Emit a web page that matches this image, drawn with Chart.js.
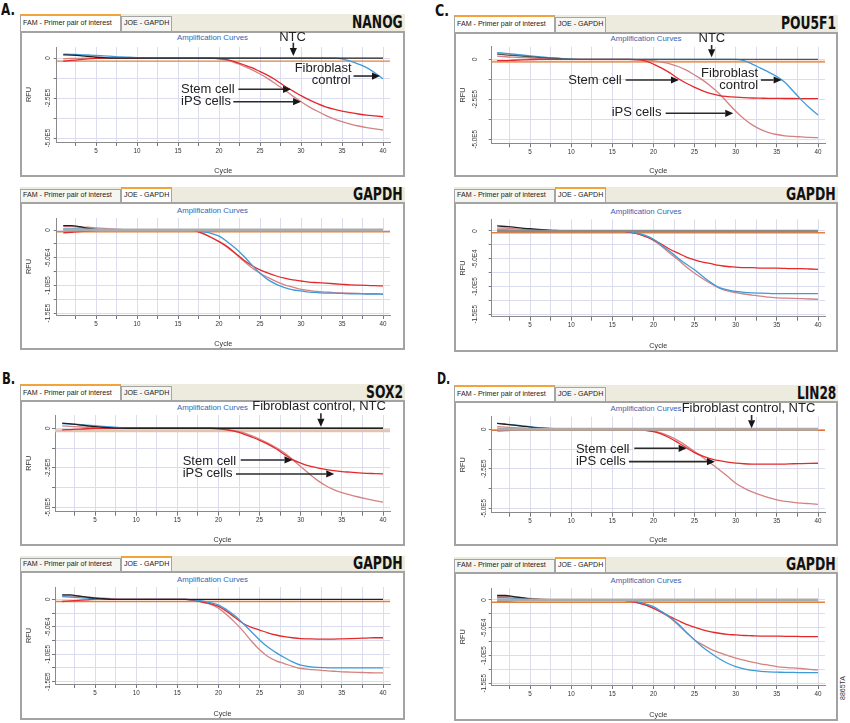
<!DOCTYPE html>
<html><head><meta charset="utf-8">
<script src="https://cdn.jsdelivr.net/npm/chart.js@4.4.1/dist/chart.umd.min.js"></script>
<style>
html,body{margin:0;padding:0;background:#fff;}
#fig{position:relative;width:850px;height:723px;overflow:hidden;font-family:"Liberation Sans",Arial,sans-serif;}
.tabbar{position:absolute;background:#ecebdd;}
.tab{position:absolute;box-sizing:border-box;border:1px solid #a5a5a5;border-bottom:none;font-size:7.1px;color:#222;white-space:nowrap;padding-left:2px;overflow:hidden;}
.tab.on{background:#fff;border-top:2px solid #f2a33a;}
.tab.off{background:#f5f5f1;}
.frame{position:absolute;box-sizing:border-box;border:2px solid #a3a3a3;background:#fff;}
.ctitle{position:absolute;text-align:center;font-size:7.8px;color:#3464b4;line-height:10px;height:10px;white-space:nowrap;}
.gene,.plab{position:absolute;font-family:"Liberation Sans Narrow","DejaVu Sans Condensed","Liberation Sans",sans-serif;font-weight:bold;color:#111;white-space:nowrap;transform-origin:0 50%;}
.code{position:absolute;font-size:7px;color:#333;white-space:nowrap;text-align:center;transform:rotate(-90deg);transform-origin:50% 50%;}
canvas{position:absolute;}
</style></head><body><div id="fig"></div>
<script>
// ---------------- DATA ----------------
const cycles = [1,2,3,4,5,6,7,8,9,10,11,12,13,14,15,16,17,18,19,20,21,22,23,24,25,26,27,28,29,30,31,32,33,34,35,36,37,38,39,40];
const xTicks = [2.5,5,7.5,10,12.5,15,17.5,20,22.5,25,27.5,30,32.5,35,37.5,40];
const famYTicks = [0,-125000,-250000,-375000,-500000];
const gapdhYTicks = [0,-25000,-50000,-75000,-100000,-125000,-150000];
const ntcRepBaseline = [0,0,0,0,0,0,0,0,0,0, 0,0,0,0,0,0,0,0,0,0, 0,0,0,0,0,0,0,0,0,0, 0,0,0,0,0,0,0,0,0,0];

// A. NANOG - FAM
const nanogStemFam = [-20000,-15000,-10000,-5000,-2000,0,0,0,0,0, 0,0,0,0,0,0,0,0,0,-3000,
  -10000,-25000,-42000,-60000,-85000,-110000,-140000,-175000,-205000,-235000,
  -262000,-285000,-305000,-320000,-332000,-342000,-350000,-357000,-362000,-367000];
const nanogIpsFam = [-5000,-3000,-2000,0,0,0,0,0,0,0, 0,0,0,0,0,0,0,0,0,-5000,
  -15000,-30000,-50000,-72000,-100000,-130000,-165000,-200000,-238000,-273000,
  -305000,-333000,-358000,-380000,-398000,-413000,-425000,-435000,-443000,-450000];
const nanogFibroFam = [25000,23000,21000,19000,16000,13000,10000,7000,5000,3000, 1000,0,0,0,0,0,0,0,0,0,
  0,0,0,0,0,0,0,0,0,0, 0,0,0,0,-5000,-20000,-38000,-60000,-92000,-130000];
const nanogNtcFam = [20000,18000,15000,10000,5000,2000,0,0,0,0, 0,0,0,0,0,0,0,0,0,0, 0,0,0,0,0,0,0,0,0,0, 0,0,0,0,0,0,0,0,0,0];
const nanogFamThreshold = -19000;

// A. NANOG - GAPDH
const nanogStemGapdh = [-5000,-4000,-3000,-2000,-1000,0,0,0,0,0, 0,0,0,0,0,0,-1000,-6000,-13000,-21000,
  -30000,-42000,-54000,-64000,-72000,-78000,-83000,-87000,-90000,-92000,
  -94000,-95000,-96000,-97000,-98000,-99000,-99500,-100000,-100500,-101000];
const nanogIpsGapdh = [6000,6000,5000,5000,4000,3000,2000,1000,0,0, 0,0,0,0,0,0,-1000,-6000,-13000,-21000,
  -31000,-43000,-56000,-68000,-78000,-86000,-93000,-99000,-103000,-107000,
  -109000,-111000,-112000,-113000,-113500,-114000,-114500,-115000,-115000,-115500];
const nanogFibroGapdh = [2000,2000,2000,2000,1000,1000,0,0,0,0, 0,0,0,0,0,0,0,-3000,-6000,-11000,
  -21000,-33000,-47000,-63000,-78000,-90000,-98000,-104000,-108000,-110000,
  -112000,-113000,-114000,-114000,-114500,-115000,-115000,-115500,-115500,-116000];
const nanogNtcGapdh = [8000,8000,6000,3000,1000,0,0,0,0,0, 0,0,0,0,0,0,0,0,0,0, 0,0,0,0,0,0,0,0,0,0, 0,0,0,0,0,0,0,0,0,0];
const nanogGapdhThreshold = -3000;

// B. SOX2 - FAM
const sox2StemFam = [-10000,-8000,-6000,-3000,-1000,0,0,0,0,0, 0,0,0,0,0,0,0,0,0,-4000,
  -10000,-20000,-35000,-55000,-76000,-100000,-130000,-165000,-198000,-220000,
  -238000,-250000,-260000,-268000,-274000,-278000,-282000,-285000,-287000,-289000];
const sox2IpsFam = [15000,12000,9000,6000,3000,1000,0,0,0,0, 0,0,0,0,0,0,0,0,0,-2000,
  -7000,-15000,-28000,-47000,-68000,-93000,-122000,-155000,-198000,-243000,
  -287000,-328000,-362000,-388000,-407000,-422000,-435000,-447000,-458000,-468000];
const sox2FibroFam = [30000,27000,24000,20000,16000,12000,8000,4000,2000,0, 0,0,0,0,0,0,0,0,0,0, 0,0,0,0,0,0,0,0,0,0, 0,0,0,0,0,0,0,0,0,0];
const sox2NtcFam = [32000,28000,22000,16000,10000,6000,3000,1000,0,0, 0,0,0,0,0,0,0,0,0,0, 0,0,0,0,0,0,0,0,0,0, 0,0,0,0,0,0,0,0,0,0];
const sox2FamThreshold = -15000;

// B. SOX2 - GAPDH
const sox2StemGapdh = [-4000,-3000,-2000,-1000,0,0,0,0,0,0, 0,0,0,0,0,0,-2000,-5000,-8000,-13000,
  -22000,-33000,-44000,-51000,-56000,-61000,-65000,-68000,-70000,-71500,
  -72000,-72500,-72500,-72500,-72000,-71500,-71000,-70500,-70000,-70000];
const sox2IpsGapdh = [6000,6000,5000,4000,3000,2000,1000,0,0,0, 0,0,0,0,0,0,-2000,-5000,-9000,-16000,
  -28000,-42000,-58000,-76000,-92000,-104000,-112000,-117000,-122000,-126000,
  -127500,-128500,-130000,-131000,-132000,-132500,-133000,-133500,-134000,-134000];
const sox2FibroGapdh = [5000,4000,3000,2000,1000,0,0,0,0,0, 0,0,0,0,0,0,-1000,-3000,-6000,-10000,
  -19000,-30000,-44000,-59000,-74000,-87000,-97000,-106000,-114000,-120000,
  -122500,-124000,-124500,-125000,-125000,-125000,-125000,-125000,-125000,-125000];
const sox2NtcGapdh = [8000,8000,6000,4000,2000,1000,0,0,0,0, 0,0,0,0,0,0,0,0,0,0, 0,0,0,0,0,0,0,0,0,0, 0,0,0,0,0,0,0,0,0,0];
const sox2GapdhThreshold = -4000;

// C. POU5F1 - FAM
const pouStemFam = [-8000,-8000,-6000,-4000,-2000,0,0,0,0,0, 0,0,0,0,0,0,0,-2000,-10000,-30000,
  -55000,-85000,-120000,-150000,-175000,-198000,-215000,-227000,-233000,-237000,
  -240000,-242000,-243000,-244000,-244000,-245000,-245000,-246000,-246000,-246000];
const pouIpsFam = [20000,16000,13000,10000,8000,6000,4000,2000,1000,0, 0,0,0,0,0,0,0,-3000,-5000,-8000,
  -18000,-28000,-45000,-68000,-98000,-130000,-170000,-215000,-270000,-325000,
  -372000,-410000,-438000,-458000,-470000,-478000,-482000,-485000,-488000,-490000];
const pouFibroFam = [42000,37000,32000,27000,22000,17000,12000,8000,4000,1000, 0,0,0,0,0,0,0,0,0,0,
  0,0,0,0,0,0,0,0,0,0, -8000,-30000,-55000,-80000,-108000,-145000,-200000,-255000,-305000,-348000];
const pouNtcFam = [33000,28000,24000,20000,16000,12000,9000,6000,3000,1000, 0,0,0,0,0,0,0,0,0,0, 0,0,0,0,0,0,0,0,0,0, 0,0,0,0,0,0,0,0,0,0];
const pouFamThreshold = -15000;

// C. POU5F1 - GAPDH
const pouStemGapdh = [0,0,0,0,0,0,0,0,0,0, 0,0,0,0,0,0,-2000,-5000,-10000,-16000,
  -24000,-33000,-40000,-47000,-52000,-56000,-59000,-62000,-64000,-65000,
  -66000,-66000,-67000,-67000,-67000,-67500,-68000,-68000,-68500,-69000];
const pouIpsGapdh = [5000,5000,4000,3000,2000,1000,0,0,0,0, 0,0,0,0,0,0,-2000,-5000,-10000,-17000,
  -28000,-40000,-52000,-65000,-76000,-86000,-95000,-103000,-108000,-111000,
  -113500,-115500,-117500,-119000,-120500,-121000,-121500,-122000,-122500,-123000];
const pouFibroGapdh = [2000,2000,1000,0,0,0,0,0,0,0, 0,0,0,0,0,0,-1000,-4000,-8000,-15000,
  -26000,-37000,-49000,-60000,-70000,-82000,-93000,-102000,-106000,-109000,
  -110500,-111500,-112000,-112500,-113000,-113000,-113000,-113000,-113000,-113000];
const pouNtcGapdh = [9000,8000,7000,5000,4000,3000,2000,1000,500,0, 0,0,0,0,0,0,0,0,0,0, 0,0,0,0,0,0,0,0,0,0, 0,0,0,0,0,0,0,0,0,0];
const pouGapdhThreshold = -3000;

// D. LIN28 - FAM
const linStemFam = [-10000,-8000,-5000,-2000,0,0,0,0,0,0, 0,0,0,0,0,0,0,-2000,-6000,-15000,
  -30000,-55000,-85000,-117000,-148000,-170000,-187000,-199000,-208000,-214000,
  -218000,-220000,-221000,-221000,-221000,-220000,-218000,-217000,-216000,-215000];
const linIpsFam = [17000,14000,11000,8000,5000,3000,1000,0,0,0, 0,0,0,0,0,0,0,-1000,-4000,-10000,
  -24000,-45000,-72000,-105000,-141000,-178000,-216000,-256000,-298000,-342000,
  -372000,-396000,-415000,-432000,-447000,-456000,-462000,-467000,-471000,-475000];
const linFibroFam = [38000,33000,28000,22000,16000,11000,7000,4000,2000,0, 0,0,0,0,0,0,0,0,0,0, 0,0,0,0,0,0,0,0,0,0, 0,0,0,0,0,0,0,0,0,0];
const linNtcFam = [38000,32000,26000,20000,14000,9000,5000,2000,0,0, 0,0,0,0,0,0,0,0,0,0, 0,0,0,0,0,0,0,0,0,0, 0,0,0,0,0,0,0,0,0,0];
const linFamThreshold = -6000;

// D. LIN28 - GAPDH
const linStemGapdh = [-2000,-2000,-1000,0,0,0,0,0,0,0, 0,0,0,0,0,0,-2000,-5000,-9000,-15000,
  -22000,-30000,-37000,-44000,-49000,-54000,-57500,-60000,-62000,-63000,
  -64000,-64500,-65000,-65000,-65000,-65500,-65500,-66000,-66000,-66000];
const linIpsGapdh = [6000,6000,5000,4000,3000,2000,1000,0,0,0, 0,0,0,0,0,0,-2000,-5000,-9000,-15000,
  -23000,-32000,-45000,-59000,-72000,-81000,-89000,-95000,-100000,-105000,
  -108500,-112000,-115000,-117500,-120000,-121500,-122500,-123500,-125000,-126000];
const linFibroGapdh = [4000,4000,3000,2000,1000,0,0,0,0,0, 0,0,0,0,0,0,-1000,-3000,-7000,-12000,
  -21000,-31000,-43000,-58000,-72000,-85000,-96000,-106000,-114000,-120000,
  -124000,-127000,-128500,-129500,-130000,-130500,-130500,-131000,-131000,-131000];
const linNtcGapdh = [8000,8000,6000,4000,2000,1000,0,0,0,0, 0,0,0,0,0,0,0,0,0,0, 0,0,0,0,0,0,0,0,0,0, 0,0,0,0,0,0,0,0,0,0];
const linGapdhThreshold = -4000;

const tabLabels = ['FAM - Primer pair of interest', 'JOE - GAPDH'];

// ---------------- STYLE ----------------
const FF = '"Liberation Sans", Arial, Helvetica, sans-serif';
const TICK_SIZE = 6.3;
const RED = '#e4292b', PINK = '#d48282', BLUE = '#3f9ad8', BLACK = '#202020', GRAY = '#ababab', ORANGE = '#e2803c';
function ser(values, color, width) { return {values: values, color: color, width: width || 1.3}; }

const panels = [
  {fx:20, fy:31, fw:385, fh:146, tabH:17, active:0, gene:'NANOG', geneW:50.7, titleY:37.7,
   plot:{l:56.7,t:47,r:390,b:142}, xMin:0.2, xMax:40.85, yMin:-525000, yMax:69000, fam:true, gap:8.4,
   series:[ser(nanogNtcFam,BLACK), ser(nanogFibroFam,BLUE), ser(nanogStemFam,RED), ser(nanogIpsFam,PINK)],
   thr:nanogFamThreshold, thrColor:ORANGE, thrW:1.3,
   texts:[{t:'NTC',c:28.96,v:131000,a:'center'},{t:'Fibroblast',c:36.18,v:-66900,a:'right'},{t:'control',c:36.06,v:-137500,a:'right'},
          {t:'Stem cell',c:15.37,v:-198000,a:'left'},{t:'iPS cells',c:15.37,v:-268750,a:'left'}],
   arrows:[{c1:29.06,v1:95600,c2:29.06,v2:12500},{c1:36.4,v1:-112500,c2:39.63,v2:-112500},
           {c1:22.36,v1:-195600,c2:28.78,v2:-195600},{c1:21.74,v1:-273000,c2:30.0,v2:-273000}]},
  {fx:20, fy:202, fw:385, fh:148, tabH:15, active:1, gene:'GAPDH', geneW:49.7, titleY:210.7,
   plot:{l:56.7,t:218,r:390,b:315}, xMin:0.2, xMax:40.85, yMin:-153400, yMax:21700, fam:false, gap:8.4,
   series:[ser(ntcRepBaseline,GRAY,3), ser(nanogNtcGapdh,BLACK), ser(nanogFibroGapdh,BLUE), ser(nanogStemGapdh,RED), ser(nanogIpsGapdh,PINK)],
   thr:nanogGapdhThreshold, thrColor:ORANGE, thrW:1.5, texts:[], arrows:[]},
  {fx:20, fy:400, fw:385, fh:146, tabH:16, active:0, gene:'SOX2', geneW:37, titleY:407.7,
   plot:{l:55,t:415,r:390,b:511.7}, xMin:0.13, xMax:40.85, yMin:-528000, yMax:84000, fam:true, gap:7.2,
   series:[ser(sox2NtcFam,BLACK), ser(sox2FibroFam,BLUE), ser(sox2StemFam,RED), ser(sox2IpsFam,PINK)],
   thr:sox2FamThreshold, thrColor:'#e6c3ad', thrW:3,
   texts:[{t:'Fibroblast control, NTC',c:24.1,v:136700,a:'left'},{t:'Stem cell',c:15.65,v:-207000,a:'left'},{t:'iPS cells',c:15.65,v:-284800,a:'left'}],
   arrows:[{c1:32.45,v1:94900,c2:32.45,v2:10100},{c1:22.7,v1:-200600,c2:29.0,v2:-200600},{c1:22.13,v1:-289200,c2:34.07,v2:-289200}]},
  {fx:20, fy:571, fw:385, fh:149, tabH:15, active:1, gene:'GAPDH', geneW:49.7, titleY:580,
   plot:{l:55,t:587,r:390,b:684}, xMin:0.13, xMax:40.85, yMin:-154200, yMax:22400, fam:false, gap:7.2,
   series:[ser(sox2NtcGapdh,BLACK), ser(sox2FibroGapdh,BLUE), ser(sox2StemGapdh,RED), ser(sox2IpsGapdh,PINK)],
   thr:sox2GapdhThreshold, thrColor:ORANGE, thrW:1.5, texts:[], arrows:[]},
  {fx:454, fy:32, fw:384, fh:145, tabH:17, active:0, gene:'POU5F1', geneW:55, titleY:39.3,
   plot:{l:491.7,t:46.7,r:825,b:143.3}, xMin:0.34, xMax:40.85, yMin:-525000, yMax:78750, fam:true, gap:16.5,
   series:[ser(pouNtcFam,'#555555'), ser(pouFibroFam,BLUE), ser(pouStemFam,RED), ser(pouIpsFam,PINK)],
   thr:pouFamThreshold, thrColor:'#e69a6a', thrW:2,
   texts:[{t:'NTC',c:27.1,v:131250,a:'center'},{t:'Fibroblast',c:32.73,v:-87500,a:'right'},{t:'control',c:32.73,v:-160600,a:'right'},
          {t:'Stem cell',c:9.65,v:-129400,a:'left'},{t:'iPS cells',c:14.92,v:-333750,a:'left'}],
   arrows:[{c1:27.07,v1:89400,c2:27.07,v2:12500},{c1:33.06,v1:-129400,c2:35.58,v2:-129400},
           {c1:16.62,v1:-129400,c2:23.1,v2:-129400},{c1:21.48,v1:-337500,c2:29.7,v2:-337500}]},
  {fx:454, fy:202, fw:384, fh:150, tabH:15, active:1, gene:'GAPDH', geneW:49.7, titleY:211.7,
   plot:{l:491.7,t:219.3,r:825,b:316.7}, xMin:0.34, xMax:40.85, yMin:-154400, yMax:21000, fam:false, gap:16.5,
   series:[ser(ntcRepBaseline,'#8a8a8a',2.5), ser(pouNtcGapdh,BLACK), ser(pouFibroGapdh,BLUE), ser(pouStemGapdh,RED), ser(pouIpsGapdh,PINK)],
   thr:pouGapdhThreshold, thrColor:ORANGE, thrW:1.5, texts:[], arrows:[]},
  {fx:454, fy:401, fw:384, fh:145, tabH:16, active:0, gene:'LIN28', geneW:39.3, titleY:408.7,
   plot:{l:491.7,t:416.7,r:825,b:512.7}, xMin:0.34, xMax:40.85, yMin:-528000, yMax:79700, fam:true, gap:7.5,
   series:[ser(ntcRepBaseline,GRAY,3), ser(linNtcFam,BLACK), ser(linFibroFam,BLUE), ser(linStemFam,RED), ser(linIpsFam,PINK)],
   thr:linFamThreshold, thrColor:'#dd7433', thrW:1.5,
   texts:[{t:'Fibroblast control, NTC',c:23.43,v:134800,a:'left'},{t:'Stem cell',c:10.58,v:-126600,a:'left'},{t:'iPS cells',c:10.58,v:-200600,a:'left'}],
   arrows:[{c1:31.93,v1:90500,c2:31.93,v2:6300},{c1:17.67,v1:-120300,c2:24.03,v2:-120300},{c1:17.02,v1:-205000,c2:27.47,v2:-205000}]},
  {fx:454, fy:572, fw:384, fh:149, tabH:15, active:1, gene:'GAPDH', geneW:49.7, titleY:580.7,
   plot:{l:491.7,t:588.3,r:825,b:685}, xMin:0.34, xMax:40.85, yMin:-153200, yMax:21000, fam:false, gap:7.5,
   series:[ser(ntcRepBaseline,GRAY,3), ser(linNtcGapdh,BLACK), ser(linFibroGapdh,BLUE), ser(linStemGapdh,RED), ser(linIpsGapdh,PINK)],
   thr:linGapdhThreshold, thrColor:ORANGE, thrW:1.5, texts:[], arrows:[]}
];

const panelLetters = [{t:'A.',x:1,y:9.5,w:14},{t:'B.',x:1.7,y:379,w:13.3},{t:'C.',x:435,y:11.3,w:14},{t:'D.',x:436.7,y:379,w:13.3}];

// ---------------- HELPERS ----------------
const mctx = document.createElement('canvas').getContext('2d');
function textW(txt, size) { mctx.font = 'normal ' + size + 'px ' + FF; return mctx.measureText(txt).width; }
function fmtRFU(v) {
  if (v === 0) return '0';
  const e = Math.floor(Math.log10(Math.abs(v)) + 1e-9);
  return (v / Math.pow(10, e)).toFixed(1) + 'E' + e;
}
function drawArrow(ctx, x1, y1, x2, y2) {
  const ang = Math.atan2(y2 - y1, x2 - x1), L = 8, Wd = 3.6;
  const bx = x2 - L * Math.cos(ang), by = y2 - L * Math.sin(ang);
  ctx.strokeStyle = '#2a2a2a'; ctx.lineWidth = 1.6;
  ctx.beginPath(); ctx.moveTo(x1, y1); ctx.lineTo(bx, by); ctx.stroke();
  ctx.fillStyle = '#161616';
  ctx.beginPath(); ctx.moveTo(x2, y2);
  ctx.lineTo(bx - Wd * Math.sin(ang), by + Wd * Math.cos(ang));
  ctx.lineTo(bx + Wd * Math.sin(ang), by - Wd * Math.cos(ang));
  ctx.closePath(); ctx.fill();
}
const annotPlugin = {
  id: 'annots',
  afterDraw(chart, args, opts) {
    const ctx = chart.ctx, xs = chart.scales.x, ys = chart.scales.y;
    ctx.save();
    ctx.font = '13px ' + FF; ctx.fillStyle = '#222'; ctx.textBaseline = 'middle';
    (opts.texts || []).forEach(t => { ctx.textAlign = t.a; ctx.fillText(t.t, xs.getPixelForValue(t.c), ys.getPixelForValue(t.v)); });
    (opts.arrows || []).forEach(a => drawArrow(ctx, xs.getPixelForValue(a.c1), ys.getPixelForValue(a.v1), xs.getPixelForValue(a.c2), ys.getPixelForValue(a.v2)));
    ctx.restore();
  }
};
Chart.register(annotPlugin);

function add(cls, txt) { const d = document.createElement('div'); d.className = cls; if (txt != null) d.textContent = txt; document.getElementById('fig').appendChild(d); return d; }
function px(v) { return v + 'px'; }

function build(p) {
  const bar = add('tabbar');
  Object.assign(bar.style, {left: px(p.fx), top: px(p.fy - p.tabH), width: px(p.fw), height: px(p.tabH)});
  const tw = [101, 51], tl = [0, 101];
  tabLabels.forEach((t, i) => {
    const d = add('tab ' + (i === p.active ? 'on' : 'off'), t);
    const h = i === p.active ? p.tabH : p.tabH - 2;
    Object.assign(d.style, {left: px(p.fx + tl[i]), top: px(p.fy - h), width: px(tw[i]), height: px(h), lineHeight: px(h - 2)});
  });
  const g = add('gene', p.gene);
  g.style.fontSize = '17px'; g.style.lineHeight = px(p.tabH); g.style.top = px(p.fy - p.tabH);
  const gw = g.getBoundingClientRect().width;
  g.style.left = px(p.fx + p.fw - 2 - p.geneW); g.style.transform = 'scaleX(' + (p.geneW / gw) + ')';

  const f = add('frame');
  Object.assign(f.style, {left: px(p.fx), top: px(p.fy), width: px(p.fw), height: px(p.fh)});
  const tt = add('ctitle', 'Amplification Curves');
  Object.assign(tt.style, {left: px(p.fx), width: px(p.fw), top: px(p.titleY - 5)});

  const cv = document.createElement('canvas');
  cv.width = p.fw; cv.height = p.fh;
  Object.assign(cv.style, {left: px(p.fx), top: px(p.fy), width: px(p.fw), height: px(p.fh)});
  document.getElementById('fig').appendChild(cv);

  const W = p.plot.l - p.fx, T = p.plot.t - p.fy, R = p.fx + p.fw - p.plot.r, H = p.fy + p.fh - p.plot.b;
  const yTicks = p.fam ? famYTicks : gapdhYTicks;
  const labStep = p.fam ? 250000 : 50000;
  const yLabel = v => (v % labStep === 0 ? fmtRFU(v) : '');
  const widest = Math.max.apply(null, yTicks.map(v => textW(yLabel(v), TICK_SIZE)));
  const yPad = p.gap - 3 - widest / 2;

  const datasets = p.series.map(s => ({
    data: cycles.map((c, i) => ({x: c, y: s.values[i]})),
    borderColor: s.color, borderWidth: s.width, pointRadius: 0, fill: false, cubicInterpolationMode: 'monotone'
  }));
  datasets.push({data: [{x: p.xMin, y: p.thr}, {x: p.xMax, y: p.thr}], borderColor: p.thrColor, borderWidth: p.thrW, pointRadius: 0, fill: false});

  const gridCol = '#dcdcef';
  new Chart(cv, {
    type: 'line',
    data: {datasets: datasets},
    options: {
      responsive: false, animation: false, devicePixelRatio: 1, events: [],
      layout: {padding: {left: 0, top: T, right: R, bottom: 0}},
      plugins: {legend: {display: false}, tooltip: {enabled: false}, title: {display: false},
                annots: {texts: p.texts, arrows: p.arrows}},
      scales: {
        x: {type: 'linear', min: p.xMin, max: p.xMax,
            afterBuildTicks: s => { s.ticks = xTicks.map(v => ({value: v})); },
            ticks: {autoSkip: false, minRotation: 0, maxRotation: 0, padding: 1.1,
                    color: '#333', font: {size: TICK_SIZE, family: FF},
                    callback: v => (v % 5 === 0 ? String(v) : '')},
            grid: {color: gridCol, tickColor: '#777', tickLength: 4, lineWidth: 1},
            border: {color: '#8a8a8a', width: 1},
            title: {display: true, text: 'Cycle', color: '#333', font: {size: 7.2, family: FF}, padding: {top: 0, bottom: 1.2}},
            afterFit: s => { s.height = H; }},
        y: {type: 'linear', min: p.yMin, max: p.yMax,
            afterBuildTicks: s => { s.ticks = yTicks.map(v => ({value: v})); },
            ticks: {autoSkip: false, minRotation: 90, maxRotation: 90, crossAlign: 'center',
                    padding: yPad, color: '#333', font: {size: TICK_SIZE, family: FF},
                    callback: yLabel},
            grid: {color: gridCol, tickColor: '#777', tickLength: 3, lineWidth: 1},
            border: {color: '#8a8a8a', width: 1},
            title: {display: true, text: 'RFU', color: '#333', font: {size: 7.3, family: FF}, padding: {top: 4.4, bottom: 0}},
            afterFit: s => { s.width = W; }}
      }
    }
  });
}

panels.forEach(build);

panelLetters.forEach(l => {
  const d = add('plab', l.t);
  d.style.fontSize = '15px'; d.style.lineHeight = '16px'; d.style.top = px(l.y - 8);
  const w = d.getBoundingClientRect().width;
  d.style.left = px(l.x); d.style.transform = 'scaleX(' + (l.w / w) + ')';
});
const code = add('code', '8865TA');
code.style.left = px(843 - 14); code.style.top = px(688 - 4); code.style.width = '28px'; code.style.lineHeight = '8px';
</script>
</body></html>
